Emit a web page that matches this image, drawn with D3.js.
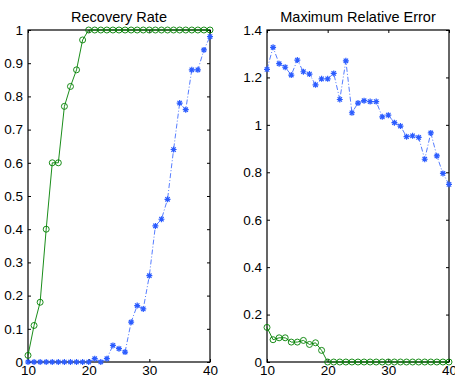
<!DOCTYPE html>
<html>
<head>
<meta charset="utf-8">
<script src="https://cdn.jsdelivr.net/npm/d3@7"></script>
<style>
  body { margin: 0; background: #fff; }
  text { font-family: "Liberation Sans", Helvetica, Arial, sans-serif; }
</style>
</head>
<body>
<div id="chart"></div>
<script>
// measurement counts
let n = d3.range(10, 41);

// recovery rate
let recGreen = [0.02, 0.11, 0.18, 0.40, 0.60, 0.60, 0.77, 0.83, 0.88, 0.97,
  1, 1, 1, 1, 1, 1, 1, 1, 1, 1, 1, 1, 1, 1, 1, 1, 1, 1, 1, 1, 1];
let recBlue = [0, 0, 0, 0, 0, 0, 0, 0, 0, 0, 0, 0.01, 0, 0.01, 0.05, 0.04, 0.03,
  0.12, 0.17, 0.16, 0.26, 0.41, 0.43, 0.49, 0.64, 0.78, 0.76, 0.88, 0.88, 0.94, 0.98];

// maximum relative error
let errGreen = [0.146, 0.094, 0.102, 0.102, 0.084, 0.084, 0.091, 0.074, 0.081, 0.049,
  0, 0, 0, 0, 0, 0, 0, 0, 0, 0, 0, 0, 0, 0, 0, 0, 0, 0, 0, 0, 0];
let errBlue = [1.234, 1.327, 1.258, 1.243, 1.21, 1.273, 1.224, 1.214, 1.169, 1.194,
  1.194, 1.217, 1.107, 1.27, 1.051, 1.092, 1.102, 1.098, 1.098, 1.034, 1.041,
  1.009, 0.995, 0.95, 0.954, 0.947, 0.855, 0.966, 0.869, 0.795, 0.749];

let xTicks = [10, 20, 30, 40];
let recTicks = d3.range(0, 11).map(d => d / 10);
let errTicks = d3.range(0, 8).map(d => d / 5);

let width = 455, height = 377;
let green = '#008000', blue = '#2b5cff';

let svg = d3.select('#chart').append('svg')
  .attr('width', width)
  .attr('height', height);

function panel(x0, x1, y0, y1, yMax, yTicks, title, gSeries, bSeries) {
  let x = d3.scaleLinear().domain([10, 40]).range([x0, x1]);
  let y = d3.scaleLinear().domain([0, yMax]).range([y1, y0]);
  let g = svg.append('g');
  let fmt = d => String(+d.toFixed(1));

  // box
  g.append('rect')
    .attr('x', x0).attr('y', y0)
    .attr('width', x1 - x0).attr('height', y1 - y0)
    .attr('fill', 'none').attr('stroke', '#000').attr('stroke-width', 1.2);

  // inward ticks on both sides
  g.append('g').attr('transform', 'translate(' + x0 + ',0)')
    .call(d3.axisLeft(y).tickValues(yTicks).tickSize(-3).tickPadding(5).tickFormat(fmt))
    .call(a => a.select('.domain').remove());
  g.append('g').attr('transform', 'translate(' + x1 + ',0)')
    .call(d3.axisRight(y).tickValues(yTicks).tickSize(-3).tickFormat(''))
    .call(a => a.select('.domain').remove());
  g.append('g').attr('transform', 'translate(0,' + y1 + ')')
    .call(d3.axisBottom(x).tickValues(xTicks).tickSize(-3).tickPadding(3))
    .call(a => a.select('.domain').remove());
  g.append('g').attr('transform', 'translate(0,' + y0 + ')')
    .call(d3.axisTop(x).tickValues(xTicks).tickSize(-3).tickFormat(''))
    .call(a => a.select('.domain').remove());
  g.selectAll('.tick text')
    .attr('font-size', 13.5)
    .attr('font-family', '"Liberation Sans", Helvetica, Arial, sans-serif')
    .attr('fill', '#000');
  g.selectAll('.tick line').attr('stroke', '#000');

  g.append('text')
    .attr('x', (x0 + x1) / 2).attr('y', y0 - 8)
    .attr('text-anchor', 'middle')
    .attr('font-size', 14.5)
    .text(title);

  let line = d3.line().x((d, i) => x(n[i])).y(d => y(d));

  g.append('path').datum(bSeries)
    .attr('d', line)
    .attr('fill', 'none').attr('stroke', blue).attr('stroke-width', 0.8)
    .attr('stroke-dasharray', '5,2,1,2');

  g.append('path').datum(gSeries)
    .attr('d', line)
    .attr('fill', 'none').attr('stroke', green).attr('stroke-width', 0.9);

  g.selectAll('.star').data(bSeries).enter()
    .append('path')
    .attr('class', 'star')
    .attr('transform', (d, i) => 'translate(' + x(n[i]) + ',' + y(d) + ')')
    .attr('d', 'M-3,0H3M0,-3V3M-2.2,-2.2L2.2,2.2M-2.2,2.2L2.2,-2.2')
    .attr('stroke', blue).attr('stroke-width', 1.2).attr('fill', 'none');

  g.selectAll('.circ').data(gSeries).enter()
    .append('circle')
    .attr('class', 'circ')
    .attr('cx', (d, i) => x(n[i]))
    .attr('cy', d => y(d))
    .attr('r', 3)
    .attr('fill', 'none').attr('stroke', green).attr('stroke-width', 0.9);
}

panel(28, 210, 30, 362, 1, recTicks, 'Recovery Rate', recGreen, recBlue);
panel(267, 449, 30, 362, 1.4, errTicks, 'Maximum Relative Error', errGreen, errBlue);
</script>
</body>
</html>
